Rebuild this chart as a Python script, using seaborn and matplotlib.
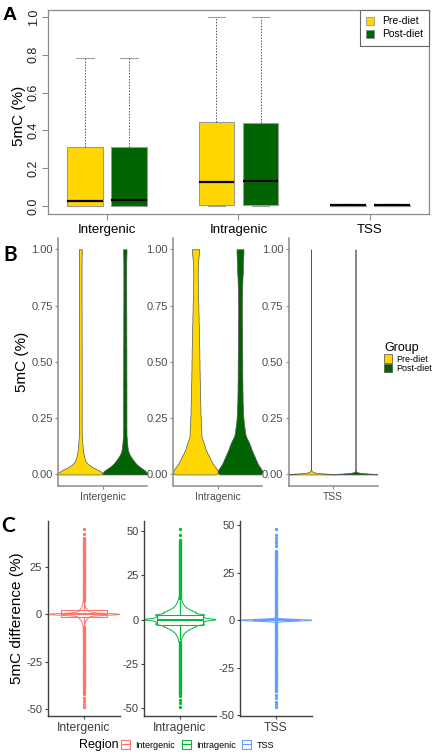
import numpy as np
import pandas as pd
import matplotlib
matplotlib.use("Agg")
import matplotlib.pyplot as plt
from matplotlib.patches import Patch
from matplotlib.lines import Line2D
from matplotlib.ticker import MultipleLocator, FormatStrFormatter
import seaborn as sns

W, H = 435, 755

regions = ["Intergenic", "Intragenic", "TSS"]
groups = ["Pre-diet", "Post-diet"]
group_colors = ["#FFD700", "#006400"]
region_colors = ["#F8766D", "#00BA38", "#619CFF"]

# ---- panel A: box stats (low whisker, q1, median, q3, high whisker) ----
a_pre = [[0.0, 0.0, 0.026, 0.314, 0.785],
         [0.0, 0.007, 0.129, 0.443, 1.0],
         [0.0, 0.0, 0.003, 0.006, 0.012]]
a_post = [[0.0, 0.0, 0.030, 0.313, 0.785],
          [0.0, 0.008, 0.131, 0.440, 1.0],
          [0.0, 0.0, 0.003, 0.006, 0.012]]

# ---- panel B: methylation levels and read counts per violin ----
b_levels = [0.0, 0.01, 0.02, 0.03, 0.04, 0.05, 0.06, 0.08, 0.10, 0.125, 0.15,
            0.20, 0.25, 0.30, 0.35, 0.40, 0.45, 0.50, 0.55, 0.60, 0.65, 0.70,
            0.75, 0.80, 0.85, 0.90, 0.95, 1.00]
b_inter_pre = [1000, 5, 10, 22, 38, 45, 60, 55, 40, 38, 50, 52, 52, 52, 52, 52,
               50, 50, 50, 48, 48, 48, 46, 46, 45, 45, 45, 60]
b_inter_post = [800, 8, 16, 32, 80, 95, 100, 50, 35, 38, 50, 52, 52, 52, 52, 52,
                50, 50, 50, 48, 48, 48, 46, 46, 45, 45, 45, 60]
b_intra_pre = [600, 70, 80, 95, 108, 110, 158, 174, 150, 128, 162, 184, 160, 152,
               144, 136, 128, 124, 120, 112, 104, 96, 88, 80, 72, 68, 80, 130]
b_intra_post = [600, 70, 80, 95, 108, 115, 165, 190, 172, 152, 180, 144, 104, 88,
                80, 76, 72, 72, 68, 64, 64, 60, 60, 64, 72, 88, 96, 120]
b_tss_pre = [20000, 1500, 100, 20, 5, 2, 1, 1, 1, 1, 1, 1, 1, 1, 1, 1, 1, 1,
             1, 1, 1, 1, 1, 1, 1, 1, 1, 1]
b_tss_post = [20000, 600, 150, 30, 5, 2, 1, 1, 1, 1, 1, 1, 1, 1, 1, 1, 1, 1,
              1, 1, 1, 1, 1, 1, 1, 1, 1, 1]
b_sigma = [0.025, 0.025, 0.004]

# ---- panel C: difference levels (mirrored around 0) and counts ----
c_levels = [0, 0.5, 1, 1.5, 2, 2.5, 3, 4, 5, 6, 7, 8, 9, 10, 11, 12, 13]
c_inter = [900, 80, 89, 67, 53, 44, 53, 44, 31, 18, 9, 4, 4, 4, 4, 4, 4]
c_intra = [625, 300, 300, 292, 288, 283, 400, 398, 292, 212, 150, 106, 80, 58, 44, 31, 22]
c_tss = [5000, 40, 20, 10, 5, 3, 2, 1, 1, 1, 1, 1, 1, 1, 1, 1, 1]
c_box = [[-6.2, -1.2, 0.0, 2.1, 7.0],
         [-11.2, -2.8, 0.0, 2.8, 11.2],
         [0.0, 0.0, 0.0, 0.0, 0.0]]
# dense outlier bands (start, end) and isolated extreme outliers
c_bands = [[(-41.7, -6.4), (7.2, 40.5)],
           [(-42.0, -12.0), (12.2, 45.0)],
           [(-37.5, -0.6), (0.6, 36.7)]]
c_lone = [[-48.6, -46.9, -45.4, -43.7, 42.3, 44.7],
          [-49.1, -46.8, -45.1, -43.2, 47.5, 50.9],
          [-45.6, -44.2, -42.8, -41.0, -39.2, 39.4, 40.8, 42.0, 43.5, 44.7, 47.9]]

plt.rcParams["font.family"] = ["Liberation Sans", "DejaVu Sans"]

fig = plt.figure(figsize=(W / 100, H / 100), dpi=100)


def px_axes(left, top, right, bottom):
    return fig.add_axes([left / W, 1 - bottom / H, (right - left) / W, (bottom - top) / H])


def bw(sigma):
    return lambda kde: sigma / kde.dataset.std(ddof=1)


# ================= A =================
a_df = pd.DataFrame({
    "Region": list(np.repeat(regions, 5)) * 2,
    "Group": np.repeat(groups, 15),
    "value": np.concatenate([np.ravel(a_pre), np.ravel(a_post)]),
})
axA = px_axes(48, 10, 429, 214)
sns.boxplot(data=a_df, x="Region", y="value", hue="Group", order=regions,
            hue_order=groups, palette=group_colors, saturation=1, width=0.67,
            gap=0.2, whis=np.inf, linecolor="#9a9a9a", linewidth=0.8,
            legend=False, ax=axA,
            medianprops=dict(color="black", linewidth=1.6),
            whiskerprops=dict(color="#555555", linestyle=(0, (1.5, 1.5)), linewidth=0.7),
            capprops=dict(color="#a0a0a0", linewidth=0.8))
axA.set_xlim(-0.449, 2.449)
axA.set_ylim(-0.042, 1.037)
axA.yaxis.set_major_locator(MultipleLocator(0.2))
axA.yaxis.set_major_formatter(FormatStrFormatter("%.1f"))
axA.set_xlabel("")
axA.set_ylabel("")
for s in axA.spines.values():
    s.set_color("#8c8c8c")
    s.set_linewidth(0.9)
axA.tick_params(direction="out", length=4, color="#8c8c8c", width=0.8)
axA.tick_params(axis="y", labelsize=9, pad=2, labelcolor="#222222")
axA.tick_params(axis="x", labelsize=9.5, pad=3)
plt.setp(axA.get_yticklabels(), rotation=90, va="center", ha="right")
axA.legend(handles=[Patch(facecolor=c, edgecolor="#888888", linewidth=0.5) for c in group_colors],
           labels=groups, loc="upper right", borderaxespad=0, fancybox=False,
           edgecolor="#666666", framealpha=1, fontsize=7.5, handlelength=0.8,
           handleheight=0.8, labelspacing=0.3, borderpad=0.6, handletextpad=0.7)
axA.get_legend().get_frame().set_linewidth(0.8)
fig.text(10 / W, 1 - 15 / H, "A", fontsize=14, fontweight="bold", ha="center", va="center")
fig.text(19 / W, 1 - 116 / H, "5mC (%)", fontsize=11, rotation=90, ha="center", va="center")

# ================= B =================
b_counts = [(b_inter_pre, b_inter_post), (b_intra_pre, b_intra_post), (b_tss_pre, b_tss_post)]
b_left = [58.3, 173.5, 289.0]
for i, reg in enumerate(regions):
    ax = px_axes(b_left[i], 238, b_left[i] + 88.5, 485.7)
    vals, grp = [], []
    for g, cnt in zip(groups, b_counts[i]):
        v = np.repeat(b_levels, cnt)
        vals.append(v)
        grp += [g] * len(v)
    df = pd.DataFrame({"Region": reg, "Group": grp, "value": np.concatenate(vals)})
    sns.violinplot(data=df, x="Region", y="value", hue="Group", hue_order=groups,
                   palette=group_colors, saturation=1, width=0.9, cut=0,
                   density_norm="width", inner=None, bw_method=bw(b_sigma[i]),
                   gridsize=400, linecolor="#555555", linewidth=0.5,
                   legend=False, ax=ax)
    ax.set_xlim(-0.4475, 0.4475)
    ax.set_ylim(-0.05, 1.05)
    ax.yaxis.set_major_locator(MultipleLocator(0.25))
    ax.yaxis.set_major_formatter(FormatStrFormatter("%.2f"))
    ax.set_xlabel("")
    ax.set_ylabel("")
    for side in ["top", "right"]:
        ax.spines[side].set_visible(False)
    for side in ["left", "bottom"]:
        ax.spines[side].set_color("#8a8a8a")
        ax.spines[side].set_linewidth(1.1)
    ax.tick_params(length=2.5, color="#8a8a8a", labelcolor="#4d4d4d")
    ax.tick_params(axis="y", labelsize=8, pad=1.5)
    ax.tick_params(axis="x", labelsize=7.5, pad=2)

fig.text(10 / W, 1 - 255 / H, "B", fontsize=15, fontweight="bold", ha="center",
         va="center", family="Lato")
fig.text(22 / W, 1 - 362 / H, "5mC (%)", fontsize=11, rotation=90, ha="center", va="center")
fig.legend(handles=[Patch(facecolor=c, edgecolor="#4d4d4d", linewidth=0.5) for c in group_colors],
           labels=groups, title="Group", title_fontsize=9, fontsize=6.5,
           loc="upper left", bbox_to_anchor=(384 / W, 1 - 342 / H), frameon=False,
           handlelength=0.9, handleheight=1.0, handletextpad=0.5, labelspacing=0.05,
           borderpad=0, borderaxespad=0, alignment="left")

# ================= C =================
c_counts = [c_inter, c_intra, c_tss]
c_left = [47.7, 144.0, 240.0]
for i, reg in enumerate(regions):
    ax = px_axes(c_left[i], 520.5, c_left[i] + 72, 715.7)
    col = region_colors[i]
    lv = np.array(c_levels, dtype=float)
    cnt = np.array(c_counts[i])
    dist = np.concatenate([np.repeat(lv, cnt), -np.repeat(lv[1:], cnt[1:])])
    outl = np.concatenate([np.arange(a, b, 0.5) for a, b in c_bands[i]] + [c_lone[i]])
    sns.violinplot(x=[reg] * len(dist), y=dist, color=col, fill=False, width=1.0,
                   cut=0, density_norm="width", inner=None, bw_method=bw(0.45),
                   gridsize=800, linewidth=0.7, ax=ax)
    sns.boxplot(x=[reg] * 5, y=c_box[i], color=col, fill=False, width=0.64,
                whis=np.inf, linewidth=0.8, ax=ax,
                medianprops=dict(color=col, linewidth=1.4),
                capprops=dict(color=col, linewidth=0))
    sns.stripplot(x=[reg] * len(outl), y=outl, color=col, jitter=False, size=2.4,
                  linewidth=0, ax=ax)
    lo, hi = outl.min(), outl.max()
    pad = 0.05 * (hi - lo)
    ax.set_ylim(lo - pad, hi + pad)
    ax.set_xlim(-0.5, 0.5)
    ax.yaxis.set_major_locator(MultipleLocator(25))
    ax.yaxis.set_major_formatter(FormatStrFormatter("%d"))
    ax.set_xlabel("")
    ax.set_ylabel("")
    for side in ["top", "right"]:
        ax.spines[side].set_visible(False)
    for side in ["left", "bottom"]:
        ax.spines[side].set_color("#404040")
        ax.spines[side].set_linewidth(1.0)
    ax.tick_params(length=2.5, color="#404040", labelcolor="#404040")
    ax.tick_params(axis="y", labelsize=8, pad=1.5)
    ax.tick_params(axis="x", labelsize=8.7, pad=2)

fig.text(8 / W, 1 - 526 / H, "C", fontsize=15, fontweight="bold", ha="center",
         va="center", family="Lato")
fig.text(17 / W, 1 - 618 / H, "5mC difference (%)", fontsize=11, rotation=90,
         ha="center", va="center")
fig.text(79 / W, 1 - 745 / H, "Region", fontsize=9, ha="left", va="center")
fig.legend(handles=[(Patch(facecolor="white", edgecolor=c, linewidth=0.8),
                     Line2D([0], [0], color=c, linewidth=0.8)) for c in region_colors],
           labels=regions, loc="center left", bbox_to_anchor=(121 / W, 1 - 745 / H),
           ncol=3, fontsize=6.5, frameon=False, handlelength=1.0, handleheight=1.2,
           handletextpad=0.6, columnspacing=0.7, borderpad=0, borderaxespad=0)

fig.savefig("out.png", dpi=100)
